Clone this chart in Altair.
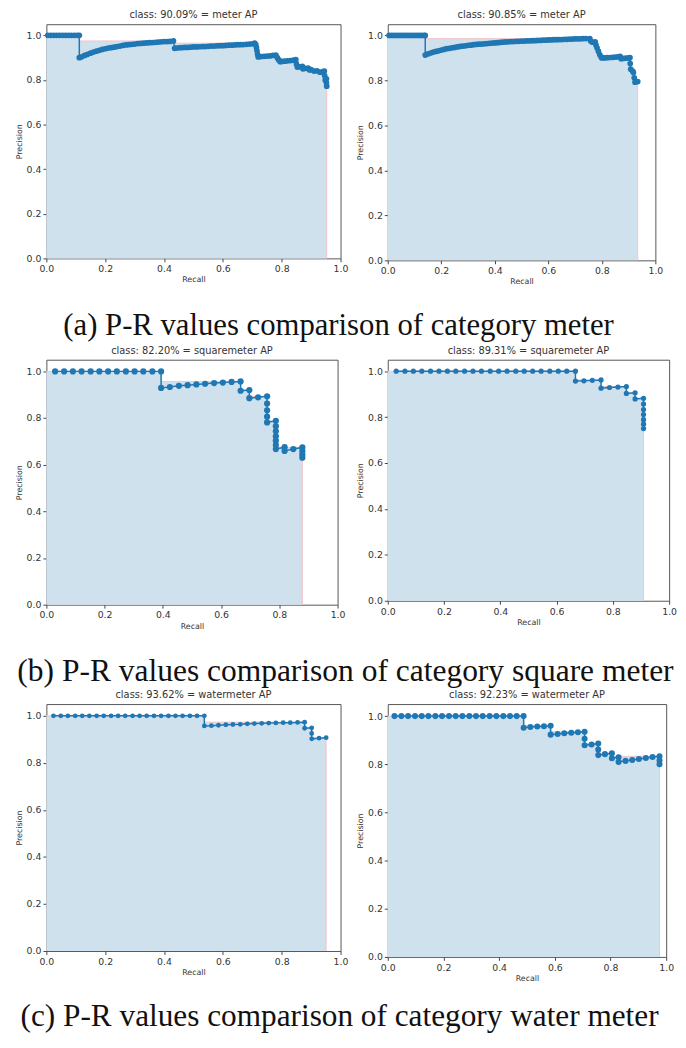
import altair as alt
import pandas as pd

# ---------------- data ----------------
TITLES = [
    "class: 90.09% = meter AP", "class: 90.85% = meter AP",
    "class: 82.20% = squaremeter AP", "class: 89.31% = squaremeter AP",
    "class: 93.62% = watermeter AP", "class: 92.23% = watermeter AP",
]
CAPTIONS = [
    "(a) P-R values comparison of category meter",
    "(b) P-R values comparison of category square meter",
    "(c) P-R values comparison of category water meter",
]
TICKS = [0.0, 0.2, 0.4, 0.6, 0.8, 1.0]

aL_recall = [0.005, 0.015, 0.025, 0.035, 0.045, 0.055, 0.065, 0.075, 0.085, 0.095, 0.105, 0.112,
             0.112, 0.12, 0.13, 0.14, 0.15, 0.16, 0.17, 0.18, 0.19, 0.20, 0.21, 0.22, 0.23, 0.24, 0.25,
             0.26, 0.27, 0.28, 0.29, 0.30, 0.31, 0.32, 0.33, 0.34, 0.35, 0.36, 0.37, 0.38, 0.39, 0.40,
             0.41, 0.42, 0.432,
             0.436, 0.44, 0.45, 0.46, 0.47, 0.48, 0.49, 0.50, 0.51, 0.52, 0.53, 0.54, 0.55, 0.56, 0.57,
             0.58, 0.59, 0.60, 0.61, 0.62, 0.63, 0.64, 0.65, 0.66, 0.67, 0.68, 0.69, 0.70, 0.708,
             0.712, 0.714, 0.716, 0.718, 0.72, 0.73, 0.74, 0.75, 0.76, 0.77, 0.78, 0.785, 0.79, 0.795,
             0.80, 0.81, 0.82, 0.83, 0.84, 0.848, 0.850, 0.853, 0.86, 0.87, 0.872, 0.88, 0.89, 0.895,
             0.90, 0.91, 0.92, 0.93, 0.94, 0.945, 0.946, 0.948, 0.952, 0.952, 0.953]
aL_precision = [1.0, 1.0, 1.0, 1.0, 1.0, 1.0, 1.0, 1.0, 1.0, 1.0, 1.0, 1.0,
                0.900, 0.904, 0.910, 0.915, 0.920, 0.925, 0.929, 0.933, 0.937, 0.940, 0.943, 0.945,
                0.947, 0.950, 0.952, 0.955, 0.957, 0.958, 0.960, 0.961, 0.963, 0.964, 0.965, 0.966,
                0.967, 0.968, 0.969, 0.970, 0.971, 0.972, 0.972, 0.973, 0.975,
                0.942, 0.943, 0.944, 0.945, 0.946, 0.946, 0.947, 0.948, 0.948, 0.949, 0.950, 0.950,
                0.951, 0.952, 0.952, 0.953, 0.954, 0.954, 0.955, 0.956, 0.956, 0.957, 0.958, 0.958,
                0.959, 0.960, 0.961, 0.962, 0.965,
                0.958, 0.945, 0.930, 0.915, 0.903, 0.905, 0.906, 0.907, 0.908, 0.910, 0.912, 0.900,
                0.890, 0.882, 0.883, 0.884, 0.886, 0.887, 0.889, 0.891, 0.872, 0.858, 0.859, 0.861,
                0.850, 0.852, 0.853, 0.845, 0.846, 0.840, 0.841, 0.835, 0.837, 0.840, 0.820, 0.800,
                0.805, 0.787, 0.772]

aR_recall = [0.005, 0.015, 0.025, 0.035, 0.045, 0.055, 0.065, 0.075, 0.085, 0.095, 0.105, 0.115,
             0.125, 0.135, 0.14,
             0.14, 0.15, 0.16, 0.17, 0.18, 0.19, 0.20, 0.21, 0.22, 0.23, 0.24, 0.25, 0.26, 0.27, 0.28,
             0.29, 0.30, 0.31, 0.32, 0.33, 0.34, 0.35, 0.36, 0.37, 0.38, 0.39, 0.40, 0.41, 0.42, 0.43,
             0.44, 0.45, 0.46, 0.47, 0.48, 0.49, 0.50, 0.51, 0.52, 0.53, 0.54, 0.55, 0.56, 0.57, 0.58,
             0.59, 0.60, 0.61, 0.62, 0.63, 0.64, 0.65, 0.66, 0.67, 0.68, 0.69, 0.70, 0.71, 0.72, 0.73,
             0.74, 0.755,
             0.758, 0.765, 0.775, 0.778, 0.782, 0.787, 0.792, 0.797, 0.80, 0.81, 0.82, 0.83, 0.84,
             0.85, 0.86, 0.868, 0.872, 0.88, 0.89, 0.90, 0.905, 0.906, 0.908, 0.915, 0.918, 0.921,
             0.924, 0.934]
aR_precision = [1.0, 1.0, 1.0, 1.0, 1.0, 1.0, 1.0, 1.0, 1.0, 1.0, 1.0, 1.0, 1.0, 1.0, 1.0,
                0.913, 0.918, 0.922, 0.926, 0.929, 0.932, 0.935, 0.938, 0.941, 0.943,
                0.945, 0.947, 0.949, 0.951, 0.953, 0.954, 0.956, 0.957, 0.959, 0.960,
                0.961, 0.962, 0.963, 0.964, 0.965, 0.966, 0.967, 0.968, 0.969, 0.970,
                0.971, 0.972, 0.973, 0.973, 0.974, 0.974, 0.975, 0.975, 0.976, 0.976,
                0.977, 0.977, 0.978, 0.978, 0.979, 0.979, 0.980, 0.980, 0.981, 0.981,
                0.982, 0.982, 0.983, 0.983, 0.984, 0.984, 0.985, 0.985, 0.985, 0.986,
                0.986, 0.986,
                0.975, 0.970, 0.972, 0.958, 0.945, 0.930, 0.915, 0.905, 0.900, 0.900, 0.901, 0.902,
                0.903, 0.904, 0.905, 0.907, 0.897, 0.898, 0.899, 0.900, 0.901, 0.875, 0.850, 0.842,
                0.835, 0.812, 0.792, 0.795]

bL_recall = [0.030, 0.061, 0.091, 0.121, 0.152, 0.182, 0.212, 0.242, 0.273, 0.303, 0.333, 0.364, 0.394,
             0.394, 0.424, 0.455, 0.485, 0.515, 0.545, 0.576, 0.606, 0.636, 0.667,
             0.667, 0.697, 0.697, 0.727, 0.758, 0.758, 0.758, 0.758, 0.758,
             0.788, 0.788, 0.788, 0.788, 0.788, 0.788, 0.788, 0.818, 0.818, 0.848,
             0.879, 0.879, 0.879, 0.879]
bL_precision = [1.0, 1.0, 1.0, 1.0, 1.0, 1.0, 1.0, 1.0, 1.0, 1.0, 1.0, 1.0, 1.0,
                0.929, 0.933, 0.938, 0.941, 0.944, 0.947, 0.950, 0.952, 0.955, 0.957,
                0.917, 0.920, 0.885, 0.889, 0.893, 0.862, 0.833, 0.806, 0.781,
                0.788, 0.765, 0.743, 0.722, 0.703, 0.684, 0.667, 0.675, 0.659, 0.667,
                0.674, 0.659, 0.644, 0.630]

bR_recall = [0.030, 0.061, 0.091, 0.121, 0.152, 0.182, 0.212, 0.242, 0.273, 0.303, 0.333, 0.364, 0.394,
             0.424, 0.455, 0.485, 0.515, 0.545, 0.576, 0.606, 0.636, 0.667,
             0.667, 0.697, 0.727, 0.758, 0.758, 0.788, 0.818, 0.848, 0.848, 0.879, 0.879,
             0.909, 0.909, 0.909, 0.909, 0.909, 0.909, 0.909]
bR_precision = [1.0, 1.0, 1.0, 1.0, 1.0, 1.0, 1.0, 1.0, 1.0, 1.0, 1.0, 1.0, 1.0,
                1.0, 1.0, 1.0, 1.0, 1.0, 1.0, 1.0, 1.0, 1.0,
                0.957, 0.958, 0.960, 0.962, 0.926, 0.929, 0.931, 0.933, 0.903, 0.906, 0.879,
                0.882, 0.857, 0.833, 0.811, 0.789, 0.769, 0.750]

cL_recall = [0.024, 0.049, 0.073, 0.098, 0.122, 0.146, 0.171, 0.195, 0.220, 0.244, 0.268, 0.293,
             0.317, 0.341, 0.366, 0.390, 0.415, 0.439, 0.463, 0.488, 0.512, 0.537,
             0.537, 0.561, 0.585, 0.610, 0.634, 0.659, 0.683, 0.707, 0.732, 0.756, 0.780, 0.805,
             0.829, 0.854, 0.878,
             0.878, 0.902, 0.902, 0.902, 0.927, 0.951]
cL_precision = [1.0, 1.0, 1.0, 1.0, 1.0, 1.0, 1.0, 1.0, 1.0, 1.0, 1.0, 1.0,
                1.0, 1.0, 1.0, 1.0, 1.0, 1.0, 1.0, 1.0, 1.0, 1.0,
                0.957, 0.958, 0.960, 0.962, 0.963, 0.964, 0.966, 0.967, 0.968, 0.969, 0.970, 0.971,
                0.971, 0.972, 0.973,
                0.947, 0.949, 0.925, 0.902, 0.905, 0.907]

cR_recall = [0.024, 0.049, 0.073, 0.098, 0.122, 0.146, 0.171, 0.195, 0.220, 0.244, 0.268, 0.293,
             0.317, 0.341, 0.366, 0.390, 0.415, 0.439, 0.463, 0.488,
             0.488, 0.512, 0.537, 0.561, 0.585, 0.585, 0.610, 0.634, 0.659, 0.683, 0.707, 0.707,
             0.707, 0.732, 0.756, 0.756, 0.756, 0.780, 0.805, 0.805, 0.829, 0.829, 0.854, 0.878,
             0.902, 0.927, 0.951, 0.976, 0.976, 0.976]
cR_precision = [1.0, 1.0, 1.0, 1.0, 1.0, 1.0, 1.0, 1.0, 1.0, 1.0, 1.0, 1.0,
                1.0, 1.0, 1.0, 1.0, 1.0, 1.0, 1.0, 1.0,
                0.952, 0.955, 0.957, 0.958, 0.960, 0.923, 0.926, 0.929, 0.931, 0.933, 0.935, 0.906,
                0.879, 0.882, 0.886, 0.861, 0.838, 0.842, 0.846, 0.825, 0.829, 0.810, 0.814, 0.818,
                0.822, 0.826, 0.830, 0.833, 0.816, 0.800]

# ---------------- styling ----------------
BLUE = "#1f77b4"
FILL = "#d0e1ee"
EDGE = "#f3c3c7"
AX_FONT = "DejaVu Sans"

# panel sizes (plot area), marker sizes and caption placement / size
SIZES = [(299, 238), (272, 240), (296, 249), (286, 245), (299, 251), (283, 257)]
MARKER = [34, 34, 40, 28, 24, 38]
CAP_POS = [(297, 315.5), (304, 327), (298, 327)]
CAP_SIZE = [31.2, 32.0, 31.8]


def panel(rec, prec, title, size, msize, caption=None, cap_pos=None, cap_size=None):
    assert len(rec) == len(prec)
    n = len(rec)
    df = pd.DataFrame({
        "i": list(range(n + 2)),
        "recall": [0.0] + list(rec) + [rec[-1]],
        "precision": [0.0] + list(prec) + [0.0],
        "kind": ["edge"] + ["pt"] * n + ["edge"],
    })
    xs = alt.X("recall:Q", scale=alt.Scale(domain=[0, 1], nice=False, zero=False),
               axis=alt.Axis(values=TICKS, format=".1f", title="Recall"))
    yaxis = alt.Axis(values=TICKS, format=".1f", title="Precision")
    yscale = alt.Scale(domain=[0, 1.05], nice=False)
    base = alt.Chart(df)
    env = base.transform_window(env="max(precision)", frame=[0, None], sort=[alt.SortField("i")])
    area = env.mark_area(fill=FILL, fillOpacity=1, strokeWidth=0, interpolate="linear").encode(
        x=xs, y=alt.Y("env:Q", scale=yscale, axis=yaxis, stack=None), y2=alt.datum(0))
    edge = env.mark_line(color=EDGE, strokeWidth=1).encode(
        x=xs, y=alt.Y("env:Q", scale=yscale, axis=yaxis, stack=None), order="i:Q")
    pts = base.transform_filter("datum.kind == 'pt'")
    curve = pts.mark_line(color=BLUE, strokeWidth=1.5).encode(
        x=xs, y=alt.Y("precision:Q", scale=yscale, axis=yaxis), order="i:Q")
    dots = pts.mark_circle(color=BLUE, size=msize, opacity=1).encode(
        x=xs, y=alt.Y("precision:Q", scale=yscale, axis=yaxis))
    layers = [area, edge, curve, dots]
    if caption is not None:
        cap = alt.Chart(pd.DataFrame({"caption": [caption]})).mark_text(
            font="Liberation Serif", fontSize=cap_size, color="#111111", align="center",
            baseline="alphabetic").encode(
            x=alt.value(cap_pos[0]), y=alt.value(cap_pos[1]), text="caption:N")
        layers.append(cap)
    return alt.layer(*layers).properties(
        width=size[0], height=size[1],
        title=alt.TitleParams(title, fontSize=10, font=AX_FONT, fontWeight="normal",
                              color="#333333", offset=4, anchor="middle"))


data = [(aL_recall, aL_precision), (aR_recall, aR_precision),
        (bL_recall, bL_precision), (bR_recall, bR_precision),
        (cL_recall, cL_precision), (cR_recall, cR_precision)]

panels = []
for k, (r, p) in enumerate(data):
    if k % 2 == 0:
        j = k // 2
        panels.append(panel(r, p, TITLES[k], SIZES[k], MARKER[k], CAPTIONS[j], CAP_POS[j], CAP_SIZE[j]))
    else:
        panels.append(panel(r, p, TITLES[k], SIZES[k], MARKER[k]))

chart = alt.concat(*panels, columns=2).properties(
    bounds="flush", align="none", spacing={"row": 101, "column": 48},
    padding={"left": 6, "top": -7, "right": 0, "bottom": 0},
).configure_view(
    stroke="#555555", strokeWidth=1
).configure_axis(
    grid=False, domain=False, labelFont=AX_FONT, labelFontSize=9.5, labelColor="#333333",
    titleFont=AX_FONT, titleFontSize=8, titleFontWeight="normal", titleColor="#333333",
    tickColor="#444444", tickSize=3.5, labelPadding=2, titlePadding=3,
    labelFlush=False, labelOverlap=False,
)

chart.save("out.html", embed_options={"renderer": "svg", "actions": False})
